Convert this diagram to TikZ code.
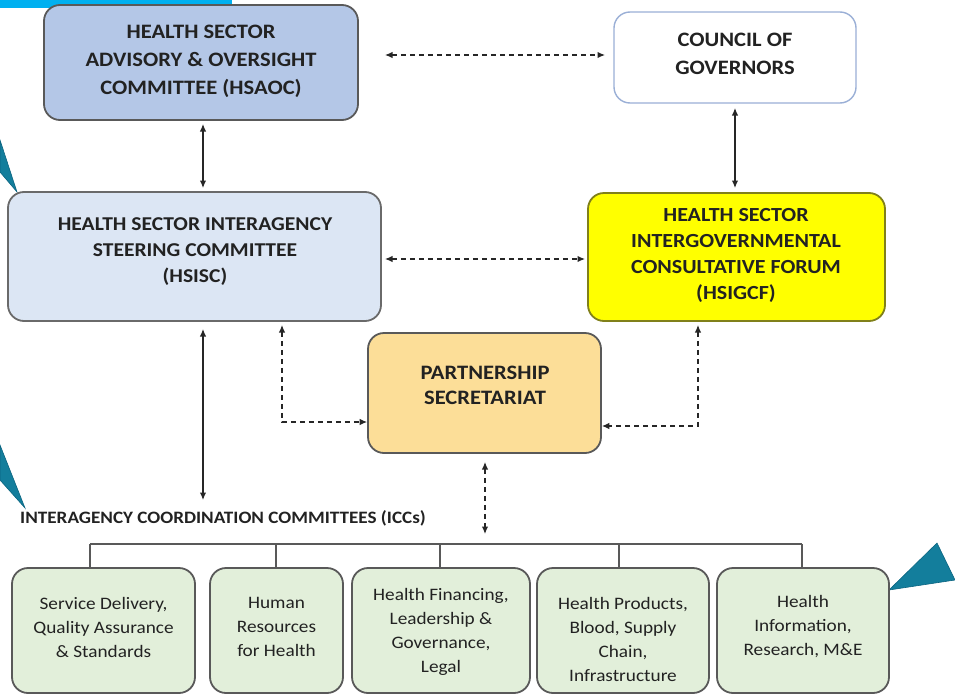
\documentclass[tikz,border=0pt]{standalone}
\usepackage{fontspec}
\setmainfont{Carlito}[FakeStretch=1.1]
\usetikzlibrary{arrows.meta}
\definecolor{txt}{HTML}{222222}
\definecolor{edge}{HTML}{595959}
\definecolor{cyanbar}{HTML}{00B0F0}
\definecolor{teal}{HTML}{137E9C}
\definecolor{tealdark}{HTML}{0B6480}
\definecolor{fillA}{HTML}{B4C7E7}
\definecolor{fillB}{HTML}{DCE6F4}
\definecolor{fillY}{HTML}{FFFF00}
\definecolor{edgeY}{HTML}{80801A}
\definecolor{fillP}{HTML}{FCDE98}
\definecolor{fillG}{HTML}{E2EFDA}
\definecolor{edgeC}{HTML}{9AAFD6}
\begin{document}
\begin{tikzpicture}[x=1pt,y=-1pt,
  boxstyle/.style={draw=edge,line width=1.8pt,rounded corners=16pt,inner sep=0pt},
  toptext/.style={text=txt,align=center,font=\fontsize{20.5}{28}\selectfont\bfseries},
  bottext/.style={text=txt,align=center,font=\fontsize{17.5}{24}\selectfont},
  conn/.style={draw=black!85,line width=1.2pt},
  dconn/.style={conn,dash pattern=on 5pt off 4pt},
  tip/.style={{Latex[length=7.5pt,width=6.5pt]}-{Latex[length=7.5pt,width=6.5pt]}},
  pointer/.style={fill=teal,draw=tealdark,line width=0.6pt}]
\useasboundingbox (0,0) rectangle (955,696);
% cyan bar
\fill[cyanbar] (0,0) rectangle (232,8);
% pointers
\filldraw[pointer] (0,140) -- (17,192) -- (0,172) -- cycle;
\filldraw[pointer] (0,445) -- (25,508) -- (0,480) -- cycle;
\filldraw[pointer] (889,590) -- (937,543) -- (955,580) -- cycle;
% boxes
\node[boxstyle,fill=fillA,minimum width=314pt,minimum height=115pt] (hsaoc) at (201,62.5) {};
\node[toptext] (hsaoct) at (201,61) {HEALTH SECTOR\\ADVISORY \& OVERSIGHT\\COMMITTEE (HSAOC)};
\node[boxstyle,draw=edgeC,line width=1.4pt,fill=white,minimum width=242pt,minimum height=91pt] (cog) at (735,57.5) {};
\node[toptext] (cogt) at (735,54) {COUNCIL OF\\GOVERNORS};
\node[boxstyle,fill=fillB,draw=edge!90,minimum width=373pt,minimum height=129pt] (hsisc) at (194.5,256.5) {};
\node[toptext,font=\fontsize{19.6}{26}\selectfont\bfseries] (hsisct) at (195,252) {HEALTH SECTOR INTERAGENCY\\STEERING COMMITTEE\\(HSISC)};
\node[boxstyle,fill=fillY,draw=edgeY,minimum width=297pt,minimum height=128pt] (hsigcf) at (736.5,257) {};
\node[toptext,font=\fontsize{20}{26}\selectfont\bfseries] (hsigcft) at (736,255) {HEALTH SECTOR\\INTERGOVERNMENTAL\\CONSULTATIVE FORUM\\(HSIGCF)};
\node[boxstyle,fill=fillP,minimum width=233pt,minimum height=120pt] (ps) at (484.5,393) {};
\node[toptext,font=\fontsize{20.5}{25}\selectfont\bfseries] (pst) at (485,385.5) {PARTNERSHIP\\SECRETARIAT};
\node[text=txt,font=\fontsize{17.4}{20}\selectfont\bfseries,anchor=west,inner sep=0pt] (icc) at (20,518) {INTERAGENCY COORDINATION COMMITTEES (ICCs)};
% bottom boxes
\tikzset{gbox/.style={boxstyle,fill=fillG,minimum height=125pt}}
\node[gbox,minimum width=183pt] (b1) at (103.5,630.5) {};
\node[gbox,minimum width=133pt] (b2) at (276.5,630.5) {};
\node[gbox,minimum width=178pt] (b3) at (441,630.5) {};
\node[gbox,minimum width=172pt] (b4) at (623,630.5) {};
\node[gbox,minimum width=172pt] (b5) at (803,630.5) {};
\node[bottext] (b1t) at (103.5,627) {Service Delivery,\\Quality Assurance\\\& Standards};
\node[bottext] (b2t) at (276.5,627) {Human\\Resources\\for Health};
\node[bottext] (b3t) at (441,632) {Health Financing,\\Leadership \&\\Governance,\\Legal};
\node[bottext] (b4t) at (623,639) {Health Products,\\Blood, Supply\\Chain,\\Infrastructure};
\node[bottext] (b5t) at (803,627) {Health\\Information,\\Research, M\&E};
% bus
\coordinate (busL) at (90,544);
\coordinate (busR) at (802,544);
\draw[draw=edge,line width=1.5pt] (busL) -- (busR);
\foreach \b/\x in {b1/90,b2/276,b3/440,b4/619,b5/802}
  \draw[draw=edge,line width=1.5pt] (\x,544) -- (\b.north -| \x,0);
% connectors
\coordinate (a1) at (385,55);
\coordinate (a2) at (605,55);
\draw[dconn,tip] (a1) -- (a2);
\draw[conn,tip] (203,124) coordinate (v1) -- (203,188) coordinate (v2);
\draw[conn,tip] (735,108) coordinate (v3) -- (735,188) coordinate (v4);
\draw[dconn,tip] (385,259) coordinate (h1) -- (585,259) coordinate (h2);
\draw[conn,tip] (203,329) coordinate (v5) -- (203,500) coordinate (v6);
\coordinate (l1) at (282,325);
\coordinate (r1) at (698,325);
\draw[dconn,tip] (l1) |- (ps.west |- 0,422);
\draw[dconn,tip] (r1) |- (ps.east |- 0,426);
\draw[dconn,tip] (485,462) coordinate (p1) -- (485,534) coordinate (p2);
\end{tikzpicture}
\end{document}
